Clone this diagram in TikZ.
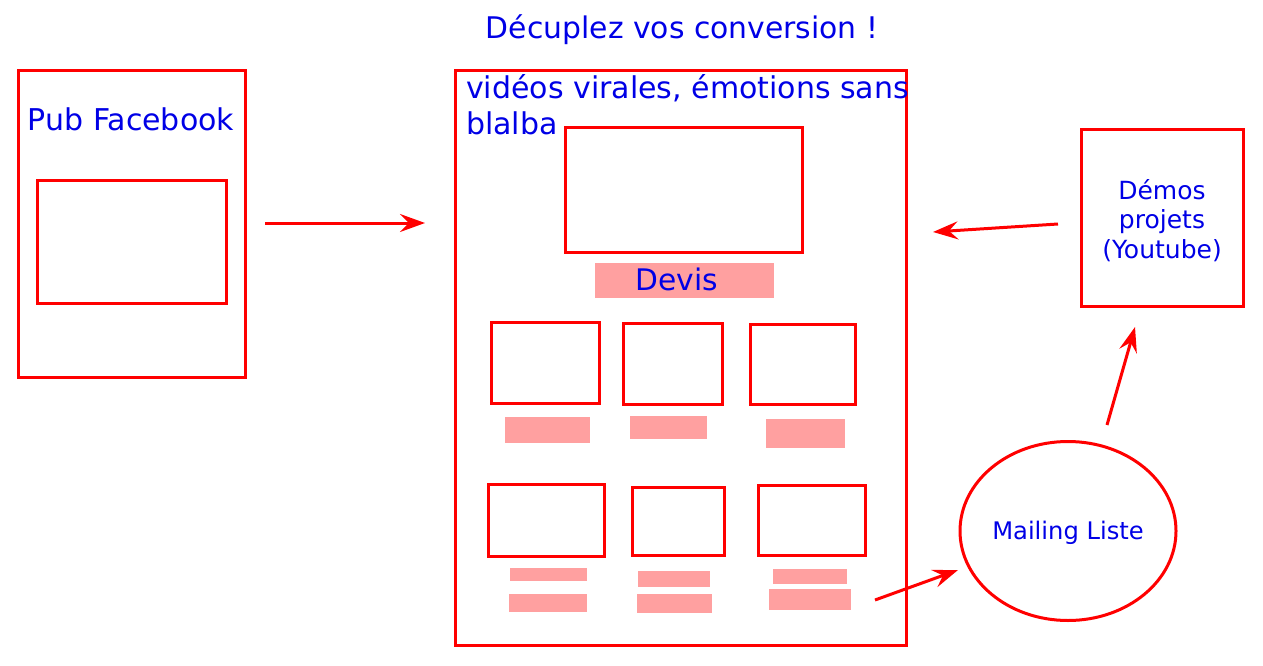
\documentclass[tikz,border=0pt]{standalone}
\usepackage{fontspec}
\setmainfont{DejaVu Sans}
\usetikzlibrary{arrows.meta,shapes.geometric}
\definecolor{rd}{RGB}{255,0,0}
\definecolor{bl}{RGB}{0,0,230}
\definecolor{pk}{RGB}{255,160,160}
\tikzset{
  frame/.style={draw=rd, line width=3pt, inner sep=0pt},
  bar/.style={fill=pk, draw=none, inner sep=0pt},
  lbl/.style={text=bl, inner sep=0pt},
  arr/.style={draw=rd, line width=3pt, -{Stealth[length=25pt,width=18pt,inset=9pt]}},
}
\newcommand{\bx}[5]{\node[frame, minimum width=#4pt-#2pt, minimum height=#5pt-#3pt] (#1) at ({(#2+#4)/2},{(#3+#5)/2}) {};}
\newcommand{\br}[5]{\node[bar, minimum width=#4pt-#2pt, minimum height=#5pt-#3pt] (#1) at ({(#2+#4)/2},{(#3+#5)/2}) {};}
\begin{document}
\begin{tikzpicture}[x=1pt,y=-1pt]
\useasboundingbox (0,0) rectangle (1263,666);
% title
\node[lbl, anchor=base, font=\fontsize{29.8}{34}\selectfont] (title) at (682,39) {Décuplez vos conversion !};
% left
\bx{fb}{18}{71}{245}{377}
\bx{fbimg}{37}{180}{226}{303}
\node[lbl, anchor=base, font=\fontsize{30}{34}\selectfont] (fbt) at (131,131) {Pub Facebook};
% main
\bx{main}{455}{71}{906}{645}
\node[lbl, anchor=base west, font=\fontsize{30}{36}\selectfont] (vt1) at (466,99) {vidéos virales, émotions sans};
\node[lbl, anchor=base west, font=\fontsize{30}{36}\selectfont] (vt2) at (466,135) {blalba};
\bx{vid}{565}{128}{802}{252}
\br{devis}{595}{263}{774}{298}
\node[lbl, anchor=base, font=\fontsize{29.7}{34}\selectfont] (devt) at (677,290) {Devis};
\bx{a1}{491}{322}{599}{403}
\bx{a2}{623}{323}{722}{404}
\bx{a3}{750}{324}{855}{404}
\br{b1}{505}{417}{590}{443}
\br{b2}{630}{416}{707}{439}
\br{b3}{766}{419}{845}{448}
\bx{c1}{488}{484}{604}{556}
\bx{c2}{632}{487}{724}{555}
\bx{c3}{758}{485}{865}{555}
\br{d1}{510}{568}{587}{581}
\br{d2}{638}{571}{710}{587}
\br{d3}{773}{569}{847}{584}
\br{e1}{509}{594}{587}{612}
\br{e2}{637}{594}{712}{613}
\br{e3}{769}{589}{851}{610}
% right
\bx{demo}{1081}{130}{1243}{306}
\node[lbl, anchor=base, font=\fontsize{25}{29}\selectfont] (dm1) at (1162,199) {Démos};
\node[lbl, anchor=base, font=\fontsize{25}{29}\selectfont] (dm2) at (1162,228) {projets};
\node[lbl, anchor=base, font=\fontsize{25}{29}\selectfont] (dm3) at (1162,258) {(Youtube)};
\node[draw=rd, line width=3pt, ellipse, minimum width=216pt, minimum height=179pt, inner sep=0pt] (mail) at (1068,531) {};
\node[lbl, anchor=base, font=\fontsize{24.2}{29}\selectfont] (mailt) at (1068,539) {Mailing Liste};
% arrows
\coordinate (p1) at (265,223); \coordinate (p2) at (425,223);
\coordinate (q1) at (1058,224); \coordinate (q2) at (933,232);
\coordinate (r1) at (1107,425); \coordinate (r2) at (1135,327);
\coordinate (s1) at (875,600); \coordinate (s2) at (958,570);
\draw[arr] (p1) -- (p2);
\draw[arr] (q1) -- (q2);
\draw[arr] (r1) -- (r2);
\draw[arr] (s1) -- (s2);
\end{tikzpicture}
\end{document}
